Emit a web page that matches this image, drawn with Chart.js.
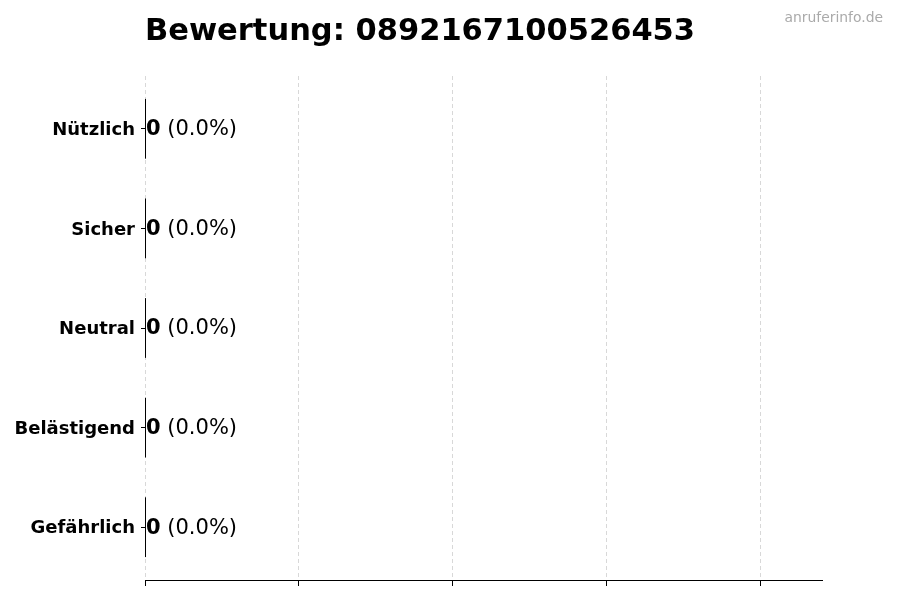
<!DOCTYPE html>
<html>
<head>
<meta charset="utf-8">
<script src="https://cdn.jsdelivr.net/npm/chart.js@4.4.0/dist/chart.umd.min.js"></script>
<style>
html,body{margin:0;padding:0;background:#fff;}
#wrap{width:900px;height:600px;position:relative;}
</style>
</head>
<body>
<div id="wrap"><canvas id="c" width="900" height="600"></canvas></div>
<script>
const titleText = "Bewertung: 0892167100526453";
const watermark = "anruferinfo.de";
const categories = ["Nützlich", "Sicher", "Neutral", "Belästigend", "Gefährlich"];
const counts = [0, 0, 0, 0, 0];
const percents = [0.0, 0.0, 0.0, 0.0, 0.0];
const xTicks = [0, 1, 2, 3, 4];
const xMax = 4.4;

const FONT = "'DejaVu Sans', sans-serif";

const overlay = {
  id: 'overlay',
  afterDatasetsDraw(chart) {
    const ctx = chart.ctx;
    const meta = chart.getDatasetMeta(0);
    ctx.save();
    meta.data.forEach((bar, i) => {
      const base = bar.base;
      const top = bar.y - bar.height / 2;
      const bottom = bar.y + bar.height / 2;
      ctx.strokeStyle = '#000';
      ctx.lineWidth = 1;
      ctx.setLineDash([]);
      ctx.beginPath();
      ctx.moveTo(Math.round(base) + 0.5, top);
      ctx.lineTo(Math.round(base) + 0.5, bottom);
      ctx.stroke();
      const x0 = bar.x + 1;
      const ty = bar.y + 1;
      ctx.textBaseline = 'middle';
      ctx.textAlign = 'left';
      ctx.fillStyle = '#000';
      ctx.font = "bold 21px " + FONT;
      const s1 = String(counts[i]);
      ctx.fillText(s1, x0, ty);
      const w1 = ctx.measureText(s1).width;
      ctx.font = "21px " + FONT;
      ctx.fillText(" (" + percents[i].toFixed(1) + "%)", x0 + w1, ty);
    });
    ctx.textBaseline = 'alphabetic';
    ctx.textAlign = 'left';
    ctx.fillStyle = '#000';
    ctx.font = "bold 30.5px " + FONT;
    ctx.fillText(titleText, chart.chartArea.left, 39.5);
    ctx.textAlign = 'right';
    ctx.fillStyle = '#aaaaaa';
    ctx.font = "13.9px " + FONT;
    ctx.fillText(watermark, 883, 22);
    ctx.restore();
  }
};

new Chart(document.getElementById('c'), {
  type: 'bar',
  data: {
    datasets: [{
      data: counts.map((v, i) => ({ x: v, y: i })),
      backgroundColor: '#d62728',
      borderWidth: 0,
      categoryPercentage: 1.0,
      barPercentage: 0.6
    }]
  },
  options: {
    indexAxis: 'y',
    responsive: false,
    animation: false,
    devicePixelRatio: 1,
    layout: { padding: { left: 0, right: 78, top: 76, bottom: 0 } },
    plugins: { legend: { display: false }, tooltip: { enabled: false }, title: { display: false } },
    scales: {
      x: {
        type: 'linear',
        min: 0,
        max: xMax,
        afterBuildTicks(scale) { scale.ticks = xTicks.map(v => ({ value: v })); },
        afterFit(scale) { scale.height = 20; },
        ticks: { display: false },
        grid: {
          display: true,
          drawOnChartArea: true,
          drawTicks: true,
          tickLength: 6,
          color: '#d8d8d8',
          tickColor: '#000',
          tickBorderDash: [],
          lineWidth: 1
        },
        border: { display: true, color: '#000', width: 1, dash: [4, 3] }
      },
      y: {
        type: 'linear',
        reverse: true,
        offset: false,
        min: -0.53,
        max: categories.length - 1 + 0.53,
        afterBuildTicks(scale) { scale.ticks = categories.map((c, i) => ({ value: i })); },
        afterFit(scale) { scale.width = 145; },
        ticks: {
          color: '#000',
          font: { family: FONT, size: 18, weight: 'bold' },
          padding: 6,
          labelOffset: 1.5,
          callback: (v) => categories[v]
        },
        grid: {
          offset: false,
          drawOnChartArea: false,
          drawTicks: true,
          tickLength: 4,
          tickColor: '#000',
          color: '#000'
        },
        border: { display: false }
      }
    }
  },
  plugins: [overlay]
});
</script>
</body>
</html>
